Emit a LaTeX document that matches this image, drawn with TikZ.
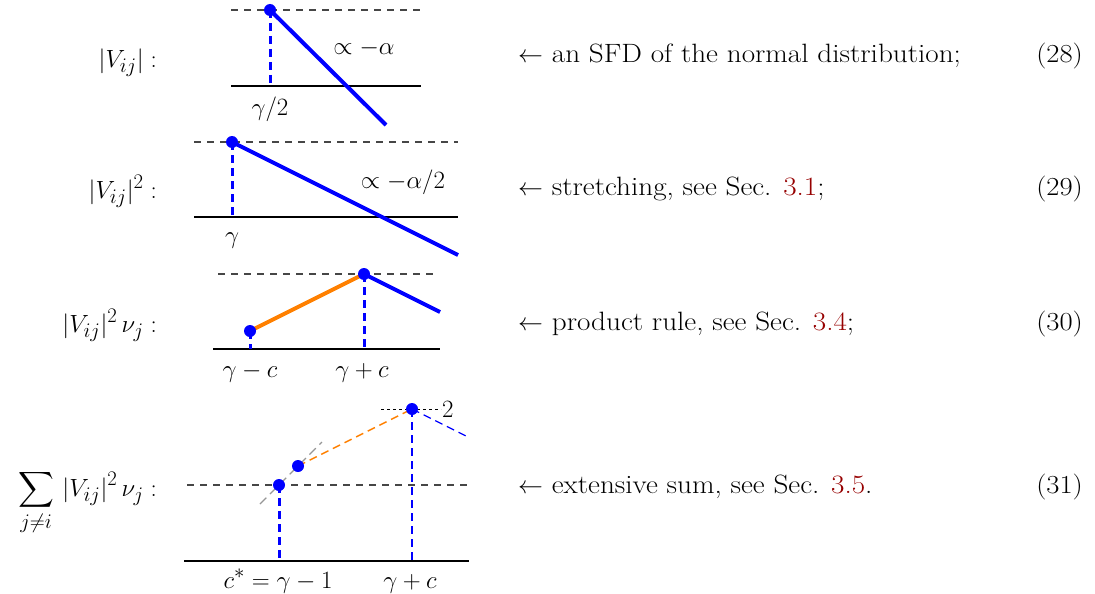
\documentclass[tikz,border=0pt]{standalone}
\usepackage{exscale}
\usepackage{fontspec}
\setmainfont{Latin Modern Roman}[FakeStretch=1.1]
\definecolor{refred}{RGB}{150,0,0}
\definecolor{myorange}{RGB}{255,128,0}
\definecolor{guidegray}{RGB}{70,70,70}
\definecolor{diaggray}{RGB}{150,150,150}
\begin{document}
\begin{tikzpicture}[x=1pt,y=-1pt,font=\fontsize{24.88}{29}\selectfont,
  axis/.style={line width=1.3pt,black},
  guide/.style={line width=1.3pt,guidegray,dash pattern=on 7pt off 6pt},
  curve/.style={blue,line width=4pt},
  ocurve/.style={myorange,line width=4pt},
  vdash/.style={blue,line width=3pt,dash pattern=on 8pt off 5pt},
  thinblue/.style={blue,line width=1.3pt,dash pattern=on 8pt off 5pt},
  thinorange/.style={myorange,line width=1.5pt,dash pattern=on 8pt off 5pt},
  diag/.style={diaggray,line width=1.1pt,dash pattern=on 9pt off 5pt},
  shortdash/.style={black,line width=1pt,dash pattern=on 3pt off 3pt},
  dot/.style={circle,fill=blue,inner sep=0pt,minimum size=12pt},
  lbl/.style={inner sep=0pt},
  lhs/.style={inner sep=0pt,anchor=base east},
  rhs/.style={inner sep=0pt,anchor=base west,font=\fontsize{26.5}{31}\selectfont},
  eqn/.style={inner sep=0pt,anchor=base east,font=\fontsize{26}{31}\selectfont}]
\useasboundingbox (0,0) rectangle (1095,594);

% ---------- panel 1
\coordinate (t1l) at (231,10); \coordinate (t1r) at (421,10);
\coordinate (b1l) at (231,86); \coordinate (b1r) at (421,86);
\coordinate (A1) at (270,10); \coordinate (f1) at (270,86);
\coordinate (e1) at (386,125);
\draw[guide] (t1l) -- (t1r);
\draw[axis] (b1l) -- (b1r);
\draw[vdash] (A1) -- (f1);
\draw[curve] (A1) -- (e1);
\node[dot] (d1) at (A1) {};
\node[lbl,anchor=base] (s1) at (364,55) {$\propto -\alpha$};
\node[lbl,anchor=base] (x1) at (270,115) {$\gamma/2$};

% ---------- panel 2
\coordinate (t2l) at (194,142); \coordinate (t2r) at (458,142);
\coordinate (b2l) at (194,217); \coordinate (b2r) at (458,217);
\coordinate (A2) at (232,142); \coordinate (f2) at (232,217);
\coordinate (e2) at (458,255);
\draw[guide] (t2l) -- (t2r);
\draw[axis] (b2l) -- (b2r);
\draw[vdash] (A2) -- (f2);
\draw[curve] (A2) -- (e2);
\node[dot] (d2) at (A2) {};
\node[lbl,anchor=base] (s2) at (403,188) {$\propto -\alpha/2$};
\node[lbl,anchor=base] (x2) at (232,243) {$\gamma$};

% ---------- panel 3
\coordinate (t3l) at (218,274); \coordinate (t3r) at (435,274);
\coordinate (b3l) at (213,349); \coordinate (b3r) at (440,349);
\coordinate (A3) at (250,331); \coordinate (B3) at (364,274);
\coordinate (fa3) at (250,349); \coordinate (fb3) at (364,349);
\coordinate (e3) at (440,312);
\draw[guide] (t3l) -- (t3r);
\draw[axis] (b3l) -- (b3r);
\draw[vdash] (A3) -- (fa3);
\draw[vdash] (B3) -- (fb3);
\draw[ocurve] (A3) -- (B3);
\draw[curve] (B3) -- (e3);
\node[dot] (d3a) at (A3) {};
\node[dot] (d3b) at (B3) {};
\node[lbl,anchor=base] (x3a) at (250,377) {$\gamma-c$};
\node[lbl,anchor=base] (x3b) at (362,377) {$\gamma+c$};

% ---------- panel 4
\coordinate (t4l) at (381,409); \coordinate (t4r) at (441,409);
\coordinate (m4l) at (187,485); \coordinate (m4r) at (468,485);
\coordinate (b4l) at (184,561); \coordinate (b4r) at (469,561);
\coordinate (A4) at (279,485); \coordinate (C4) at (298,466);
\coordinate (B4) at (412,409);
\coordinate (g1) at (260,504); \coordinate (g2) at (322,442);
\coordinate (fa4) at (279,561); \coordinate (fb4) at (412,561);
\coordinate (e4) at (470,438);
\draw[shortdash] (t4l) -- (t4r);
\node[lbl,anchor=west] (two) at (442,409) {$2$};
\draw[guide] (m4l) -- (m4r);
\draw[axis] (b4l) -- (b4r);
\draw[diag] (g1) -- (g2);
\draw[thinorange] (C4) -- (B4);
\draw[thinblue] (B4) -- (e4);
\draw[vdash] (A4) -- (fa4);
\draw[thinblue] (B4) -- (fb4);
\node[dot] (d4a) at (A4) {};
\node[dot] (d4c) at (C4) {};
\node[dot] (d4b) at (B4) {};
\node[lbl,anchor=base] (x4a) at (278,588) {$c^*=\gamma-1$};
\node[lbl,anchor=base] (x4b) at (410,588) {$\gamma+c$};

% ---------- left labels
\node[lhs] (L1) at (157,67) {$|V_{ij}|:$};
\node[lhs] (L2) at (157,198) {$|V_{ij}|^2:$};
\node[lhs] (L3) at (157,332) {$|V_{ij}|^2\,\nu_j:$};
\node[lhs] (L4) at (157,496) {$\displaystyle\sum_{j\neq i}\,|V_{ij}|^2\,\nu_j:$};

% ---------- right texts
\node[rhs] (R1) at (518,63) {$\leftarrow$ an SFD of the normal distribution;};
\node[rhs] (R2) at (518,195) {$\leftarrow$ stretching, see Sec. \textcolor{refred}{3.1};};
\node[rhs] (R3) at (518,330) {$\leftarrow$ product rule, see Sec. \textcolor{refred}{3.4};};
\node[rhs] (R4) at (518,493) {$\leftarrow$ extensive sum, see Sec. \textcolor{refred}{3.5}.};
\node[eqn] (N1) at (1083,63) {(28)};
\node[eqn] (N2) at (1083,195) {(29)};
\node[eqn] (N3) at (1083,330) {(30)};
\node[eqn] (N4) at (1083,493) {(31)};
\end{tikzpicture}
\end{document}
